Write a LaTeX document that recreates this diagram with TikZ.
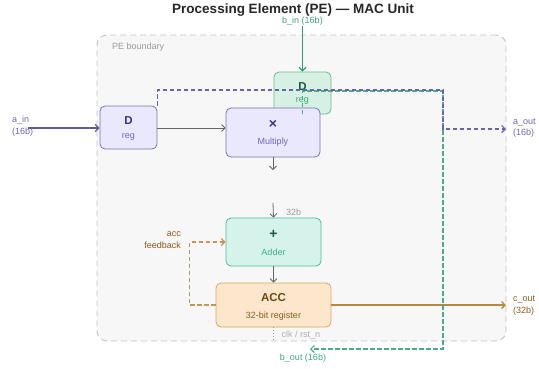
\documentclass[tikz,border=0pt]{standalone}
\usepackage{fontspec}
\setmainfont{Liberation Sans}
\usetikzlibrary{arrows.meta}
\definecolor{bnd}{HTML}{C4C4C4}
\definecolor{bndfill}{HTML}{F7F7F7}
\definecolor{pfill}{HTML}{EAE8FC}
\definecolor{pdraw}{HTML}{7A72B6}
\definecolor{ptext}{HTML}{3B3486}
\definecolor{psub}{HTML}{6F66B5}
\definecolor{gfill}{HTML}{D6F1E4}
\definecolor{gdraw}{HTML}{62BE90}
\definecolor{gtext}{HTML}{1F5A43}
\definecolor{gsub}{HTML}{3DA877}
\definecolor{tfill}{HTML}{D5F3EB}
\definecolor{tdraw}{HTML}{4DBB98}
\definecolor{ttext}{HTML}{1D5748}
\definecolor{tsub}{HTML}{3FAE8C}
\definecolor{ofill}{HTML}{FCE7CC}
\definecolor{odraw}{HTML}{D9A662}
\definecolor{otext}{HTML}{6B4716}
\definecolor{osub}{HTML}{8A5A1E}
\definecolor{oline}{HTML}{B98740}
\definecolor{ofb}{HTML}{C59455}
\definecolor{garrow}{HTML}{666666}
\definecolor{apath}{HTML}{6A63A6}
\definecolor{bpath}{HTML}{4DAA8C}
\definecolor{bin}{HTML}{2F9E6A}
\definecolor{lbgray}{HTML}{9A9A9A}
\begin{document}
\begin{tikzpicture}[x=1pt,y=-1pt,
  box/.style={draw, rounded corners=5pt, line width=0.8pt, inner sep=0pt},
  tip/.style={-{Straight Barb[length=3.5pt,width=7pt]}},
  lbl/.style={font=\fontsize{9}{10}\selectfont, inner sep=0pt},
  big/.style={font=\fontsize{11.5}{12}\selectfont\bfseries, inner sep=0pt},
  sym/.style={font=\fontsize{14}{14}\selectfont\bfseries, inner sep=0pt},
  dpath/.style={line width=1.2pt, dash pattern=on 4.5pt off 2.5pt},
]
\useasboundingbox (0,0) rectangle (539,368);
% PE boundary
\node[draw=bnd, fill=bndfill, rounded corners=10pt, line width=0.9pt,
      dash pattern=on 6pt off 4pt, minimum width=409pt, minimum height=306pt,
      inner sep=0pt] (pe) at (301.5,188) {};
\node[lbl, text=lbgray, anchor=west] (pelbl) at (112,47) {PE boundary};
% title
\node[inner sep=0pt, font=\fontsize{13.5}{14}\selectfont\bfseries, text=black!85] (title) at (293,10.5) {Processing Element (PE) — MAC Unit};
% boxes
\node[box, fill=pfill, draw=pdraw, minimum width=57pt, minimum height=43pt] (dA) at (128.5,127.5) {};
\node[box, fill=gfill, draw=gdraw, minimum width=57pt, minimum height=42pt] (dB) at (302.5,93) {};
\node[box, fill=pfill, draw=pdraw, minimum width=94pt, minimum height=49pt] (mul) at (273,132.5) {};
\node[box, fill=tfill, draw=tdraw, minimum width=95pt, minimum height=48pt] (add) at (273.5,242) {};
\node[box, fill=ofill, draw=odraw, minimum width=115pt, minimum height=44pt] (acc) at (273.5,305) {};
% box texts
\node[big, text=ptext] (dAt) at (128.5,121) {D};
\node[lbl, text=psub] (dAs) at (128.5,137) {reg};
\node[big, text=gtext] (dBt) at (302.5,87) {D};
\node[lbl, text=gsub] (dBs) at (302.5,101) {reg};
\node[sym, text=ptext] (mult) at (273,124) {×};
\node[lbl, text=psub] (muls) at (273,142) {Multiply};
\node[sym, text=ttext] (addt) at (273.5,234) {+};
\node[lbl, text=tsub] (adds) at (273.5,252) {Adder};
\node[big, text=otext] (acct) at (273.5,298) {ACC};
\node[lbl, text=osub] (accs) at (273.5,316) {32-bit register};
% coordinates
\coordinate (binc) at (302.5,26);
\coordinate (ainc) at (28,128);
\coordinate (mo) at (273,170);
\coordinate (ai) at (273,203);
\coordinate (coutc) at (506,305);
\coordinate (tr) at (443,90);
\coordinate (tr2) at (443,91);
\coordinate (aoutc) at (506,129);
\coordinate (boutc) at (310,349);
\coordinate (clkc) at (273.5,340);
% connectors
\draw[tip, draw=bin, line width=1.3pt] (binc) -- (dB.north);
\draw[tip, draw=apath!90!black, line width=1.3pt] (ainc) -- (ainc -| dA.west);
\draw[tip, draw=garrow, line width=0.8pt] (dA.east |- ainc) -- (ainc -| mul.west);
\draw[tip, draw=garrow, line width=0.8pt] (mul.south) -- (mo);
\draw[tip, draw=garrow, line width=0.8pt] (ai) -- (add.north);
\draw[tip, draw=garrow, line width=0.8pt] (add.south) -- (acc.north);
\draw[tip, draw=oline, line width=1.3pt] (acc.east) -- (coutc);
\draw[tip, draw=ofb, dpath] (acc.west) -- ++(-26,0) |- (add.west);
\draw[dotted, draw=lbgray, line width=0.8pt] (acc.south) -- (clkc);
\draw[tip, draw=bpath, dpath] (dB.south) |- (tr2) |- (boutc);
\draw[tip, draw=apath, dpath] (dA.north east) |- (tr) |- (aoutc);
% labels
\node[lbl, text=psub, anchor=west] (ainl1) at (12,120) {a\_in};
\node[lbl, text=psub, anchor=west] (ainl2) at (12,132) {(16b)};
\node[lbl, text=psub, anchor=west] (aoutl1) at (513,122) {a\_out};
\node[lbl, text=psub, anchor=west] (aoutl2) at (513,133) {(16b)};
\node[lbl, text=osub, anchor=west] (coutl1) at (513,299) {c\_out};
\node[lbl, text=osub, anchor=west] (coutl2) at (513,311) {(32b)};
\node[lbl, text=osub, anchor=east] (fbl1) at (181,234) {acc};
\node[lbl, text=osub, anchor=east] (fbl2) at (181,245) {feedback};
\node[lbl, text=lbgray, anchor=west] (w32) at (286,212) {32b};
\node[lbl, text=lbgray!80] (clkl) at (301,335) {clk / rst\_n};
\node[lbl, text=gsub] (boutl) at (303,358) {b\_out (16b)};
\node[lbl, text=gsub] (binl) at (302.5,21) {b\_in (16b)};
\end{tikzpicture}
\end{document}
